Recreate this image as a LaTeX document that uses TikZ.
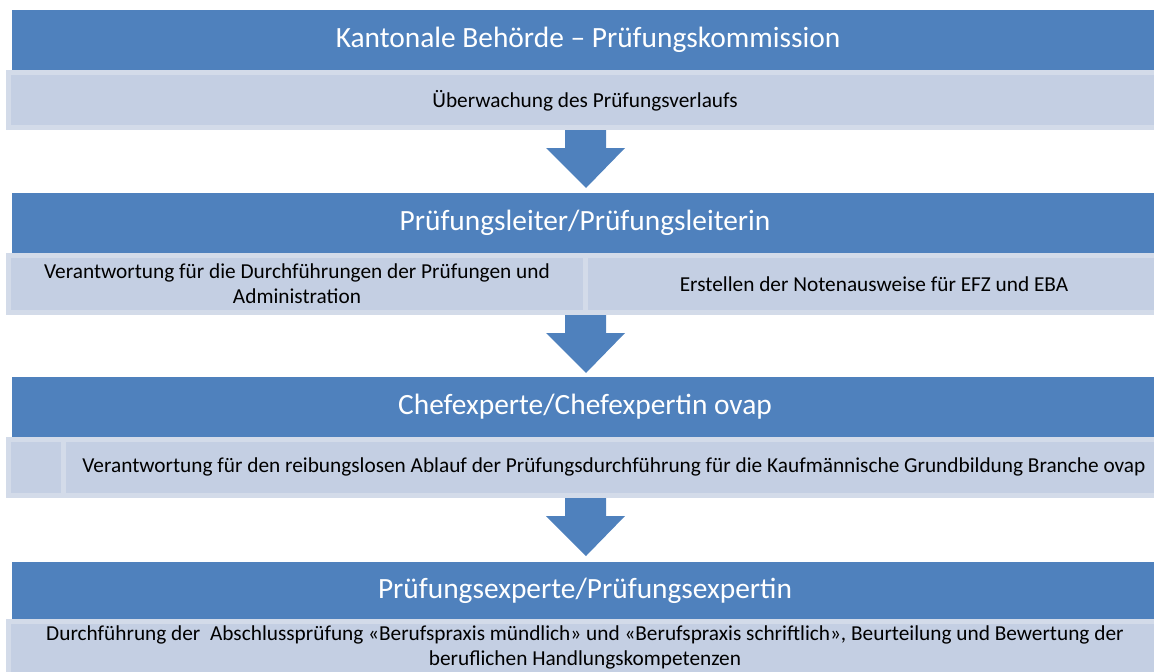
\documentclass[tikz,border=0pt]{standalone}
\usepackage{fontspec}
\setmainfont{Carlito}
\definecolor{hdrblue}{RGB}{79,129,189}
\definecolor{subfill}{RGB}{196,207,227}
\definecolor{subedge}{RGB}{211,219,233}
\tikzset{
  hdr/.style={fill=hdrblue, draw=none},
  subbox/.style={fill=subfill, draw=subedge, line width=5pt},
  hdrtext/.style={text=white, font=\fontsize{29.4}{34}\selectfont, inner sep=0pt},
  subtext/.style={text=black, font=\fontsize{21.3}{25}\selectfont, inner sep=0pt, align=center},
  blockarrow/.style={fill=hdrblue, draw=none}
}
\begin{document}
\begin{tikzpicture}[x=1pt,y=-1pt]
\useasboundingbox (0,0) rectangle (1154,672);
\clip (0,0) rectangle (1154,672);
% Band 1
\fill[hdr] (12,10) rectangle (1170,70);
\node[hdrtext] (h1) at (588,40) {Kantonale Behörde – Prüfungskommission};
\draw[subbox] (8.5,72.5) rectangle (1170,127.5);
\node[subtext] (s1) at (585,101) {Überwachung des Prüfungsverlaufs};
% Arrow 1
\fill[blockarrow] (565,130) -- (606,130) -- (606,148) -- (625,148) -- (586,188) -- (546,148) -- (565,148) -- cycle;
% Band 2
\fill[hdr] (12,193) rectangle (1170,253);
\node[hdrtext] (h2) at (585,223) {Prüfungsleiter/Prüfungsleiterin};
\draw[subbox] (8.5,255.5) rectangle (585,312.5);
\draw[subbox] (585,255.5) rectangle (1170,312.5);
\node[subtext] (s2a) at (297,284) {Verantwortung für die Durchführungen der Prüfungen und\\Administration};
\node[subtext] (s2b) at (874,284) {Erstellen der Notenausweise für EFZ und EBA};
% Arrow 2
\fill[blockarrow] (565,315) -- (606,315) -- (606,333) -- (625,333) -- (586,373) -- (546,333) -- (565,333) -- cycle;
% Band 3
\fill[hdr] (12,377) rectangle (1170,437);
\node[hdrtext] (h3) at (585,407) {Chefexperte/Chefexpertin ovap};
\draw[subbox] (8.5,439.5) rectangle (63,495.5);
\draw[subbox] (63,439.5) rectangle (1170,495.5);
\node[subtext] (s3) at (614,467) {Verantwortung für den reibungslosen Ablauf der Prüfungsdurchführung für die Kaufmännische Grundbildung Branche ovap};
% Arrow 3
\fill[blockarrow] (565,498) -- (606,498) -- (606,516) -- (625,516) -- (586,556) -- (546,516) -- (565,516) -- cycle;
% Band 4
\fill[hdr] (12,562) rectangle (1170,619);
\node[hdrtext] (h4) at (585,591) {Prüfungsexperte/Prüfungsexpertin};
\draw[subbox] (8.5,621.5) rectangle (1170,690);
\node[subtext] (s4) at (585,647) {Durchführung der\ \ Abschlussprüfung «Berufspraxis mündlich» und «Berufspraxis schriftlich», Beurteilung und Bewertung der\\beruflichen Handlungskompetenzen};
\end{tikzpicture}
\end{document}
